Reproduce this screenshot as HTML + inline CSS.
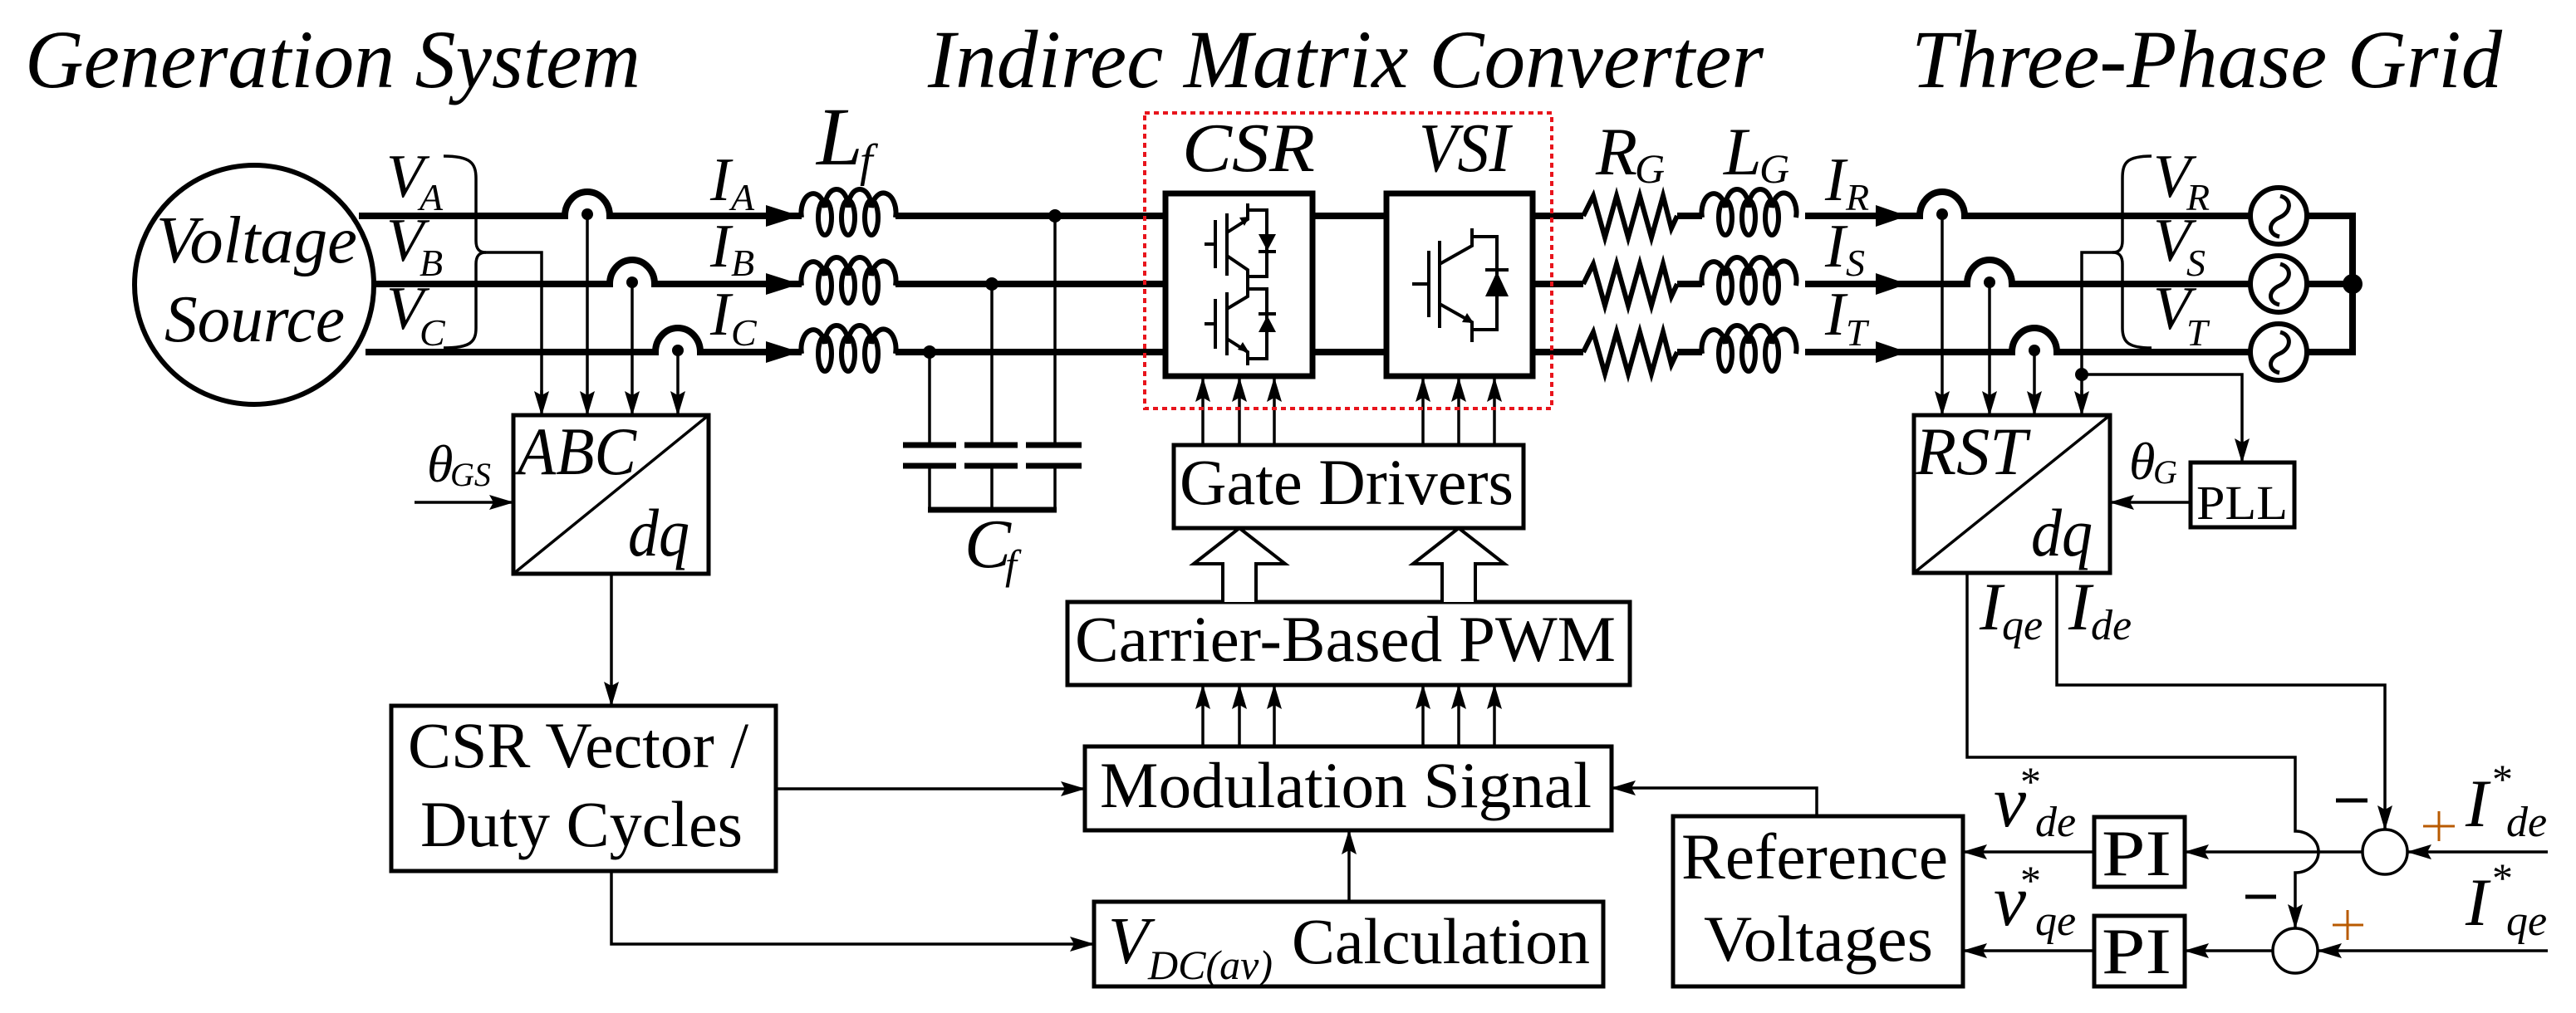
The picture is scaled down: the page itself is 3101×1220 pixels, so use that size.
<!DOCTYPE html>
<html><head><meta charset="utf-8"><style>
html,body{margin:0;padding:0;background:#fff;}
svg{display:block;}
svg text{font-family:"Liberation Serif","Times New Roman",Times,"DejaVu Serif",serif;fill:#000;}
.it{font-style:italic;}
</style></head><body>
<svg width="3101" height="1220" viewBox="0 0 3101 1220" xmlns="http://www.w3.org/2000/svg" font-family="Liberation Serif, Times New Roman, serif">
<defs>
<marker id="ar" markerUnits="userSpaceOnUse" markerWidth="30" markerHeight="18" refX="29" refY="9" orient="auto">
<path d="M0,0 L30,9 L0,18 L5,9 Z" fill="#000"/></marker>
</defs>
<rect width="3101" height="1220" fill="#fff"/>

<text class="it" x="30" y="105" font-size="100" textLength="741" lengthAdjust="spacingAndGlyphs">Generation System</text>
<text class="it" x="1117" y="105" font-size="100" textLength="1006" lengthAdjust="spacingAndGlyphs">Indirec Matrix Converter</text>
<text class="it" x="2301" y="105" font-size="100" textLength="711" lengthAdjust="spacingAndGlyphs">Three-Phase Grid</text>

<circle cx="306" cy="343" r="144" fill="none" stroke="#000" stroke-width="6"/>
<text class="it" x="188" y="316" font-size="80" textLength="242" lengthAdjust="spacingAndGlyphs">Voltage</text>
<text class="it" x="198" y="411" font-size="80" textLength="217" lengthAdjust="spacingAndGlyphs">Source</text>

<g fill="none" stroke="#000" stroke-width="8">
<path d="M432,260 L680,260 A27,29 0 0 1 734,260 L965,260"/>
<path d="M450,342 L734,342 A27,29 0 0 1 788,342 L965,342"/>
<path d="M440,424 L789,424 A27,29 0 0 1 843,424 L965,424"/>
<path d="M1078,260 L1403,260 M1078,342 L1403,342 M1078,424 L1403,424"/>
<path d="M1582,260 L1667,260 M1582,424 L1667,424"/>
<path d="M1847,260 L1906,260 M1847,342 L1906,342 M1847,424 L1906,424"/>
<path d="M2019,260 L2049,260 M2019,342 L2049,342 M2019,424 L2049,424"/>
<path d="M2173,260 L2311,260 A27,29 0 0 1 2365,260 L2708,260"/>
<path d="M2173,342 L2368,342 A27,29 0 0 1 2422,342 L2708,342"/>
<path d="M2173,424 L2422,424 A27,29 0 0 1 2476,424 L2708,424"/>
<path d="M2778,260 L2832,260 L2832,424 L2778,424 M2778,342 L2832,342"/>
</g>
<circle cx="2832" cy="342" r="12" fill="#000"/>

<g fill="none" stroke="#000" stroke-width="6">
<g id="coil">
<path d="M965,262 A14,22 0 0 1 993,250 A14,22 0 0 1 1021,250 A14,22 0 0 1 1049,250 A14,22 0 0 1 1078,262"/>
<ellipse cx="993" cy="262" rx="8" ry="21"/>
<ellipse cx="1021" cy="262" rx="8" ry="21"/>
<ellipse cx="1049" cy="262" rx="8" ry="21"/>
</g>
<use href="#coil" y="82"/>
<use href="#coil" y="164"/>
<use href="#coil" x="1084"/>
<use href="#coil" x="1084" y="82"/>
<use href="#coil" x="1084" y="164"/>
<g id="res"><path d="M1906,260 L1918,236 L1932,286 L1946,236 L1960,286 L1974,236 L1988,286 L2002,236 L2012,275 L2019,260"/></g>
<use href="#res" y="82"/>
<use href="#res" y="164"/>
</g>

<g fill="#000">
<path d="M922,247 L963,260 L922,273 Z"/>
<path d="M922,329 L963,342 L922,355 Z"/>
<path d="M922,411 L963,424 L922,437 Z"/>
<path d="M2258,247 L2296,260 L2258,273 Z"/>
<path d="M2258,329 L2296,342 L2258,355 Z"/>
<path d="M2258,411 L2296,424 L2258,437 Z"/>
<circle cx="707" cy="258" r="7"/><circle cx="761" cy="340" r="7"/><circle cx="816" cy="422" r="7"/>
<circle cx="2338" cy="258" r="7"/><circle cx="2395" cy="340" r="7"/><circle cx="2449" cy="422" r="7"/>
<circle cx="1270" cy="260" r="8"/><circle cx="1194" cy="342" r="8"/><circle cx="1119" cy="424" r="8"/>
<circle cx="2506" cy="451" r="8"/>
</g>

<g fill="none" stroke="#000" stroke-width="6">
<circle cx="2743" cy="260" r="34"/><circle cx="2743" cy="342" r="34"/><circle cx="2743" cy="424" r="34"/>
<path id="sw" d="M2745,236 C2760,240 2758,256 2744,262 C2730,268 2730,282 2744,285" stroke-width="5"/>
<use href="#sw" y="82"/><use href="#sw" y="164"/>
</g>

<g fill="none" stroke="#000" stroke-width="3.5">
<path d="M534,188 C566,188 573,196 573,215 L573,290 C573,300 577,304 585,304 L652,304 L652,495"/>
<path d="M585,304 C577,304 573,308 573,318 L573,395 C573,412 566,419 534,419"/>
<path d="M2590,188 C2560,188 2555,196 2555,215 L2555,290 C2555,300 2551,304 2543,304 L2506,304 L2506,495"/>
<path d="M2543,304 C2551,304 2555,308 2555,318 L2555,395 C2555,412 2562,419 2590,419"/>
</g>

<g fill="none" stroke="#000" stroke-width="3.5" marker-end="url(#ar)">
<path d="M652,470 L652,500"/>
<path d="M707,262 L707,500"/>
<path d="M761,344 L761,500"/>
<path d="M816,426 L816,500"/>
<path d="M2338,262 L2338,500"/>
<path d="M2395,344 L2395,500"/>
<path d="M2449,426 L2449,500"/>
<path d="M2506,470 L2506,500"/>
<path d="M2506,451 L2699,451 L2699,557"/>
<path d="M2637,605 L2540,605"/>
<path d="M499,605 L618,605"/>
<path d="M736,691 L736,850"/>
<path d="M934,950 L1306,950"/>
<path d="M736,1049 L736,1137 L1317,1137"/>
<path d="M1624,1086 L1624,1000"/>
<path d="M2187,983 L2187,949 L1940,949"/>
<path d="M2476,690 L2476,825 L2871,825 L2871,999"/>
<path d="M2368,690 L2368,912 L2763,912 L2763,1001 A28,25 0 0 1 2763,1051 L2763,1118"/>
<path d="M3067,1026 L2898,1026"/>
<path d="M2844,1026 L2630,1026"/>
<path d="M2521,1026 L2363,1026"/>
<path d="M3067,1145 L2790,1145"/>
<path d="M2736,1145 L2630,1145"/>
<path d="M2521,1145 L2363,1145"/>
<path d="M1448,536 L1448,455"/><path d="M1492,536 L1492,455"/><path d="M1534,536 L1534,455"/>
<path d="M1713,536 L1713,455"/><path d="M1756,536 L1756,455"/><path d="M1799,536 L1799,455"/>
<path d="M1448,899 L1448,825"/><path d="M1492,899 L1492,825"/><path d="M1534,899 L1534,825"/>
<path d="M1713,899 L1713,825"/><path d="M1756,899 L1756,825"/><path d="M1799,899 L1799,825"/>
</g>

<g fill="none" stroke="#000" stroke-width="3.5">
<path d="M1270,264 L1270,536 M1194,346 L1194,536 M1119,428 L1119,536"/>
<path d="M1119,561 L1119,614 M1194,561 L1194,614 M1270,561 L1270,614"/>
</g>
<g stroke="#000" stroke-width="7">
<path d="M1087,536 L1151,536 M1161,536 L1225,536 M1235,536 L1302,536"/>
<path d="M1087,561 L1151,561 M1161,561 L1225,561 M1235,561 L1302,561"/>
<path d="M1117,614 L1272,614"/>
</g>

<g fill="none" stroke="#000">
<rect x="1403" y="233" width="177" height="220" stroke-width="7"/>
<rect x="1669" y="233" width="176" height="220" stroke-width="7"/>
</g>
<rect x="1378" y="136" width="490" height="356" fill="none" stroke="#e8141c" stroke-width="4" stroke-dasharray="6,5"/>
<text class="it" x="1423" y="206" font-size="84" textLength="160" lengthAdjust="spacingAndGlyphs">CSR</text>
<text class="it" x="1708" y="206" font-size="84" textLength="110" lengthAdjust="spacingAndGlyphs">VSI</text>

<g fill="none" stroke="#000" stroke-width="4">
<path d="M1450,294 L1463,294 M1463,265 L1463,323 M1477,257 L1477,332"/>
<path d="M1477,280 L1502,264 L1502,245 M1502,253 L1525,253 L1525,333 L1502,333 M1477,308 L1502,325 L1502,348"/>
<path d="M1450,390 L1463,390 M1463,360 L1463,420 M1477,352 L1477,428"/>
<path d="M1477,372 L1502,357 L1502,348 M1502,348 L1525,348 L1525,432 L1502,432 M1477,408 L1502,424 L1502,440"/>
<path d="M1515,303 L1536,303 M1515,378 L1536,378"/>
<path d="M1700,342 L1720,342 M1720,302 L1720,382 M1733,290 L1733,395"/>
<path d="M1733,318 L1772,296 L1772,275 M1772,285 L1802,285 L1802,397 L1772,397 M1733,366 L1772,388 L1772,412"/>
<path d="M1788,325 L1816,325"/>
</g>
<g fill="#000">
<path d="M1515,282 L1536,282 L1525.5,302 Z"/>
<path d="M1515,400 L1536,400 L1525.5,380 Z"/>
<path d="M1788,357 L1816,357 L1802,327 Z"/>
<path d="M1492,262 L1504,261 L1498,272 Z"/>
<path d="M1490,421 L1504,425 L1496,412 Z"/>
<path d="M1760,388 L1774,389 L1766,377 Z"/>
</g>

<g fill="#fff" stroke="#000" stroke-width="5">
<rect x="618" y="500" width="235" height="191"/>
<rect x="2304" y="500" width="236" height="190"/>
<rect x="2637" y="557" width="125" height="78"/>
<rect x="1413" y="536" width="421" height="100"/>
<rect x="1285" y="725" width="677" height="100"/>
<rect x="1306" y="899" width="634" height="101"/>
<rect x="1317" y="1086" width="613" height="102"/>
<rect x="471" y="850" width="463" height="199"/>
<rect x="2014" y="983" width="349" height="205"/>
<rect x="2521" y="984" width="109" height="84"/>
<rect x="2521" y="1103" width="109" height="85"/>
</g>
<g stroke="#000" stroke-width="3.5" fill="none">
<path d="M618,691 L853,500 M2304,690 L2540,500"/>
<circle cx="2871" cy="1026" r="27"/>
<circle cx="2763" cy="1145" r="27"/>
</g>
<g fill="#fff" stroke="#000" stroke-width="4">
<path d="M1472,725 L1472,679 L1437,679 L1492,636 L1547,679 L1512,679 L1512,725"/>
<path d="M1736,725 L1736,679 L1701,679 L1756,636 L1811,679 L1776,679 L1776,725"/>
</g>

<g stroke="#000" stroke-width="5">
<path d="M2812,964 L2850,964 M2703,1080 L2740,1080"/>
</g>
<g stroke="#b85a00" stroke-width="3">
<path d="M2917,995 L2955,995 M2936,977 L2936,1013 M2808,1114 L2845,1114 M2826,1096 L2826,1132"/>
</g>

<text x="1420" y="607" font-size="78" textLength="402" lengthAdjust="spacingAndGlyphs">Gate Drivers</text>
<text x="1294" y="796" font-size="78" textLength="651" lengthAdjust="spacingAndGlyphs">Carrier-Based PWM</text>
<text x="1324" y="972" font-size="78" textLength="592" lengthAdjust="spacingAndGlyphs">Modulation Signal</text>
<text x="1555" y="1160" font-size="78" textLength="359" lengthAdjust="spacingAndGlyphs">Calculation</text>
<text class="it" x="1334" y="1160" font-size="80">V</text>
<text class="it" x="1382" y="1179" font-size="50" textLength="150" lengthAdjust="spacingAndGlyphs">DC(av)</text>
<text x="491" y="924" font-size="78" textLength="410" lengthAdjust="spacingAndGlyphs">CSR Vector /</text>
<text x="506" y="1019" font-size="78" textLength="388" lengthAdjust="spacingAndGlyphs">Duty Cycles</text>
<text x="2024" y="1058" font-size="78" textLength="321" lengthAdjust="spacingAndGlyphs">Reference</text>
<text x="2051" y="1157" font-size="78" textLength="276" lengthAdjust="spacingAndGlyphs">Voltages</text>
<text x="2530" y="1054" font-size="78" textLength="84" lengthAdjust="spacingAndGlyphs">PI</text>
<text x="2530" y="1172" font-size="78" textLength="84" lengthAdjust="spacingAndGlyphs">PI</text>
<text x="2644" y="625" font-size="58" textLength="110" lengthAdjust="spacingAndGlyphs">PLL</text>

<text class="it" x="623" y="571" font-size="82" textLength="143" lengthAdjust="spacingAndGlyphs">ABC</text>
<text class="it" x="756" y="669" font-size="82" textLength="74" lengthAdjust="spacingAndGlyphs">dq</text>
<text class="it" x="2306" y="571" font-size="82" textLength="134" lengthAdjust="spacingAndGlyphs">RST</text>
<text class="it" x="2445" y="669" font-size="82" textLength="74" lengthAdjust="spacingAndGlyphs">dq</text>

<g>
<text class="it" x="465" y="237" font-size="74">V</text><text class="it" x="505" y="253" font-size="46">A</text>
<text class="it" x="465" y="314" font-size="74">V</text><text class="it" x="505" y="332" font-size="46">B</text>
<text class="it" x="465" y="396" font-size="74">V</text><text class="it" x="505" y="416" font-size="46">C</text>
<text class="it" x="855" y="241" font-size="74">I</text><text class="it" x="880" y="253" font-size="46">A</text>
<text class="it" x="855" y="321" font-size="74">I</text><text class="it" x="880" y="332" font-size="46">B</text>
<text class="it" x="855" y="403" font-size="74">I</text><text class="it" x="880" y="416" font-size="46">C</text>
<text class="it" x="983" y="198" font-size="100">L</text><text class="it" x="1035" y="212" font-size="56">f</text>
<text class="it" x="1161" y="683" font-size="84">C</text><text class="it" x="1210" y="697" font-size="50">f</text>
<text class="it" x="1921" y="210" font-size="82">R</text><text class="it" x="1968" y="220" font-size="50">G</text>
<text class="it" x="2075" y="210" font-size="82">L</text><text class="it" x="2118" y="220" font-size="50">G</text>
<text class="it" x="2197" y="241" font-size="74">I</text><text class="it" x="2222" y="253" font-size="46">R</text>
<text class="it" x="2197" y="321" font-size="74">I</text><text class="it" x="2222" y="332" font-size="46">S</text>
<text class="it" x="2197" y="403" font-size="74">I</text><text class="it" x="2222" y="416" font-size="46">T</text>
<text class="it" x="2592" y="237" font-size="74">V</text><text class="it" x="2632" y="253" font-size="46">R</text>
<text class="it" x="2592" y="314" font-size="74">V</text><text class="it" x="2632" y="332" font-size="46">S</text>
<text class="it" x="2592" y="396" font-size="74">V</text><text class="it" x="2632" y="416" font-size="46">T</text>
<text class="it" x="514" y="580" font-size="64">θ</text><text class="it" x="542" y="585" font-size="40">GS</text>
<text class="it" x="2563" y="577" font-size="64">θ</text><text class="it" x="2592" y="582" font-size="40">G</text>
<text class="it" x="2383" y="758" font-size="82">I</text><text class="it" x="2410" y="770" font-size="52">qe</text>
<text class="it" x="2490" y="758" font-size="82">I</text><text class="it" x="2517" y="770" font-size="52">de</text>
<text class="it" x="2400" y="995" font-size="88">v</text><text class="it" x="2450" y="1007" font-size="52">de</text><text x="2432" y="958" font-size="50">*</text>
<text class="it" x="2400" y="1114" font-size="88">v</text><text class="it" x="2450" y="1126" font-size="52">qe</text><text x="2432" y="1077" font-size="50">*</text>
<text class="it" x="2968" y="995" font-size="82">I</text><text class="it" x="3017" y="1007" font-size="52">de</text><text x="3000" y="955" font-size="50">*</text>
<text class="it" x="2968" y="1114" font-size="82">I</text><text class="it" x="3017" y="1126" font-size="52">qe</text><text x="3000" y="1074" font-size="50">*</text>
</g>
</svg>
</body></html>
